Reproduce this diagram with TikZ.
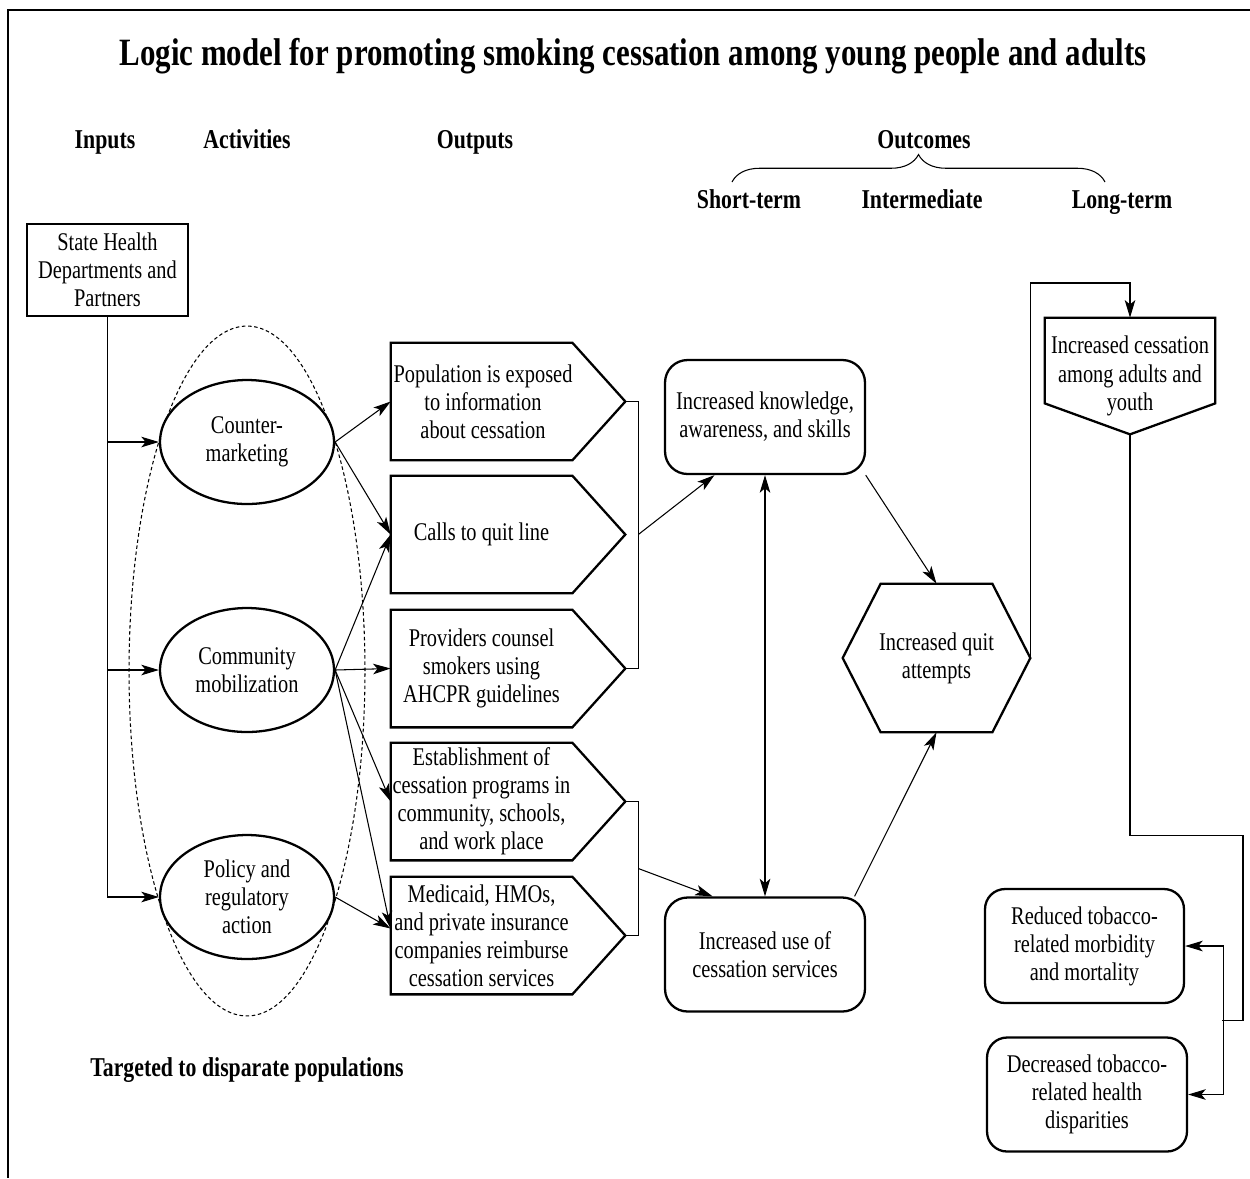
\documentclass[tikz,border=0pt]{standalone}
\usepackage{fontspec}
\setmainfont{Liberation Serif}[FakeStretch=0.8]
\usetikzlibrary{arrows.meta,calc,shapes.geometric,decorations.pathreplacing,positioning}

\begin{document}
\begin{tikzpicture}[x=0.02cm,y=-0.02cm,
  >={Stealth[length=10pt,width=6pt,inset=2.5pt]},
  shp/.style={line width=1.3pt},
  lnk/.style={line width=0.6pt},
  txt/.style={font=\fontsize{14.5}{16}\selectfont, align=center, inner sep=0pt},
  head/.style={font=\fontsize{15.5}{18}\selectfont\bfseries, anchor=base},
  act/.style={txt, ellipse, draw, fill=white, shp, minimum width=3.48cm, minimum height=2.48cm},
  outbox/.style={txt, minimum width=3.62cm, minimum height=2.34cm},
  endbox/.style={txt, draw, shp, rounded corners=0.45cm, minimum width=4cm, minimum height=2.28cm}]
\useasboundingbox (0,0) rectangle (1250,1178);
\draw[lnk] (1250,10) -- (8,10) -- (8,1178);

% headings
\node[font=\fontsize{22}{26}\selectfont\bfseries, anchor=base] (title) at (633,65) {Logic model for promoting smoking cessation among young people and adults};
\node[head] (hin) at (105,148) {Inputs};
\node[head] (hact) at (247,148) {Activities};
\node[head] (hout) at (475,148) {Outputs};
\node[head] (hoc) at (924,148) {Outcomes};
\node[head] (hst) at (749,208) {Short-term};
\node[head] (hint) at (922,208) {Intermediate};
\node[head] (hlt) at (1122,208) {Long-term};
\draw[lnk, decorate, decoration={brace, amplitude=0.55cm}] (732,182) -- (1105,182);
\node[head] (tgt) at (247,1076) {Targeted to disparate populations};

% inputs and activities
\node[txt, draw, shp, minimum width=3.22cm, minimum height=1.84cm] (sh) at (107.5,270) {State Health\\Departments and\\Partners};
\node[draw, lnk, dash pattern=on 2pt off 1.5pt, ellipse, minimum width=4.72cm, minimum height=13.8cm] (grp) at (247,671) {};
\node[act] (cm) at (247,442) {Counter-\\marketing};
\node[act] (com) at (247,670) {Community\\mobilization};
\node[act] (pol) at (247,897) {Policy and\\regulatory\\action};

% outputs
\node[outbox] (out1) at (483,401.5) {Population is exposed\\to information\\about cessation};
\node[outbox] (out2) at (481.5,534.5) {Calls to quit line};
\node[outbox] (out3) at (481.5,668.5) {Providers counsel\\smokers using\\AHCPR guidelines};
\node[outbox] (out4) at (481.5,801.5) {Establishment of\\cessation programs in\\community, schools,\\and work place};
\node[outbox] (out5) at (481.5,935.5) {Medicaid, HMOs,\\and private insurance\\companies reimburse\\cessation services};
\foreach \o in {out1,out2,out3,out4,out5}
  \draw[shp] (\o.north west -| out2.west) -- (\o.north east -| out2.east) -- ($(\o.east -| out2.east)+(53,0)$) coordinate (\o tip) -- (\o.south east -| out2.east) -- (\o.south west -| out2.west) -- cycle;

% outcomes
\node[endbox] (know) at (765,417) {Increased knowledge,\\awareness, and skills};
\node[endbox] (use) at (765,954.5) {Increased use of\\cessation services};
\node[txt, minimum width=3.74cm, minimum height=2.96cm] (quit) at (936.5,658) {Increased quit\\attempts};
\draw[shp] ($(quit.north west)+(38,0)$) -- ($(quit.north east)+(-38,0)$) -- (quit.east) -- ($(quit.south east)+(-38,0)$) -- ($(quit.south west)+(38,0)$) -- (quit.west) -- cycle;
\node[txt, minimum width=3.4cm, minimum height=2.32cm] (long) at (1130,376) {Increased cessation\\among adults and\\youth};
\draw[shp] (long.north west) -- (long.north east) -- ($(long.south east)+(0,-31)$) -- (long.south) -- ($(long.south west)+(0,-31)$) -- cycle;
\node[endbox, rounded corners=0.4cm, minimum width=3.98cm] (red) at (1084.5,946) {Reduced tobacco-\\related morbidity\\and mortality};
\node[endbox, rounded corners=0.4cm] (dec) at (1087,1094.5) {Decreased tobacco-\\related health\\disparities};

% links
\draw[lnk,->] (sh.south) |- (pol.west);
\draw[lnk,->] (sh.south |- cm.west) -- (cm.west);
\draw[lnk,->] (sh.south |- com.west) -- (com.west);
\draw[lnk,->] (cm.east) -- (out1.west -| out2.west);
\draw[lnk,->] (cm.east) -- (out2.west);
\draw[lnk,->] (com.east) -- (out2.west);
\draw[lnk,->] (com.east) -- (out3.west);
\draw[lnk,->] (com.east) -- (out4.west);
\draw[lnk,->] (com.east) -- ($(out5.west)+(0,-7)$);
\draw[lnk,->] (pol.east) -- ($(out5.west)+(0,-7)$);
\draw[lnk] (out1tip) -- ++(13,0) |- (out3tip);
\draw[lnk,->] (out2tip) ++(13,0) -- (know.229);
\draw[lnk] (out4tip) -- ++(13,0) |- (out5tip);
\draw[lnk,->] ($(out4tip)!0.5!(out5tip)$) ++(13,0) -- (use.132);
\draw[lnk,<->] (know.south) -- (use.north);
\draw[lnk,->] (know.-30) -- (quit.north);
\draw[lnk,->] (use.33) -- (quit.south);
\draw[lnk,->] (quit.east) -- ++(0,-375) -| (long.north);
\draw[lnk] (long.south) |- ++(113,401) |- ++(-21,185);
\draw[lnk,<->] (red.east) -- ++(38,0) |- (dec.east);
\end{tikzpicture}
\end{document}
